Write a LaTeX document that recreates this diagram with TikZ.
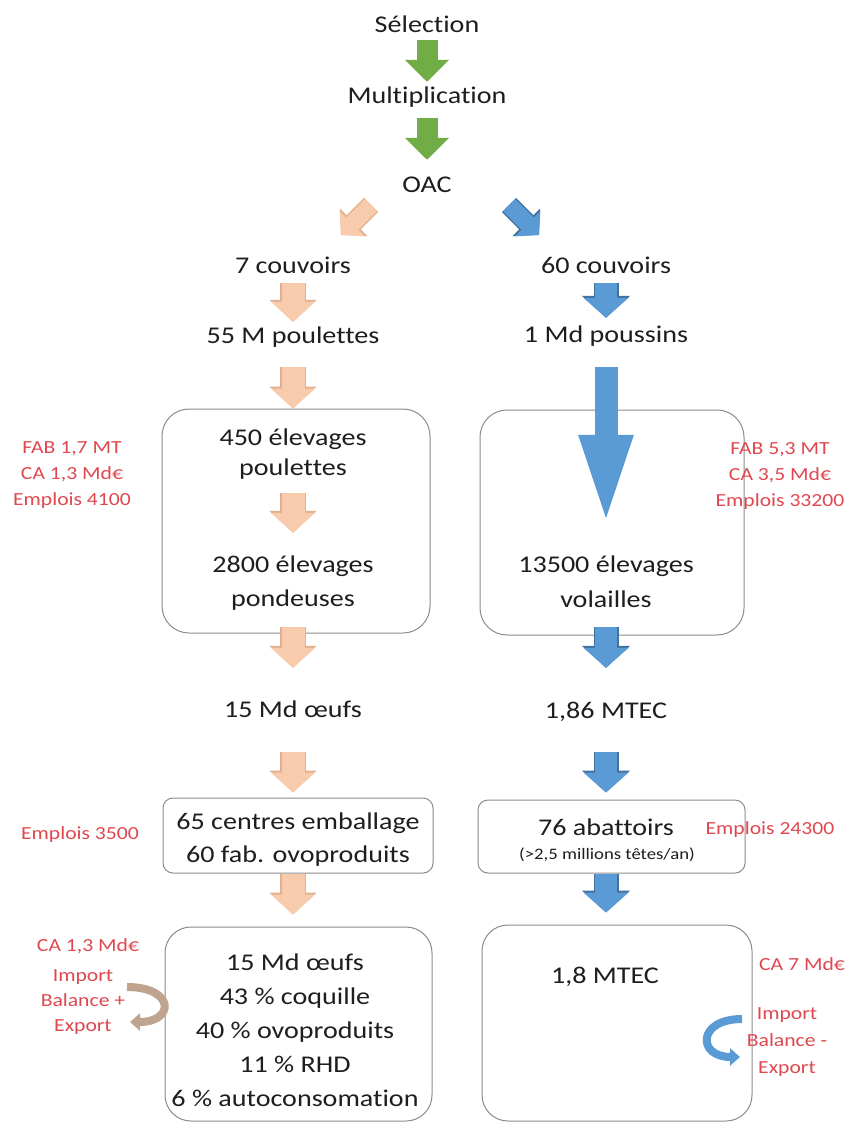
\documentclass[tikz,border=0pt]{standalone}
\usepackage{fontspec}
\setmainfont{Carlito}[FakeStretch=1.17,Ligatures=NoCommon]
\usetikzlibrary{arrows.meta}
\definecolor{leafgreen}{RGB}{112,173,71}
\definecolor{peach}{RGB}{248,203,173}
\definecolor{peachline}{RGB}{226,176,142}
\definecolor{chickblue}{RGB}{91,155,213}
\definecolor{blueline}{RGB}{65,113,156}
\definecolor{notered}{RGB}{224,72,80}
\definecolor{boxgray}{RGB}{140,140,140}
\definecolor{ink}{RGB}{30,30,30}
\definecolor{swaptan}{RGB}{192,163,142}

\tikzset{
  txt/.style={anchor=base,inner sep=0pt,text height=16pt,text depth=5pt,text=ink,font=\fontsize{24}{28}\selectfont},
  smalltxt/.style={anchor=base,inner sep=0pt,text=ink,font=\fontsize{16}{19}\selectfont},
  note/.style={align=center,inner sep=0pt,text=notered,font=\fontsize{18.5}{26}\selectfont},
  panel/.style={draw=boxgray,line width=1pt,rounded corners=#1,inner sep=0pt},
  panel/.default=26pt,
  greenflow/.style={draw=leafgreen,line width=21pt,-{Triangle[length=22pt,width=43pt]}},
  peachflow/.style={draw=peachline,line width=26pt,-{Triangle[length=22pt,width=46pt]},
    postaction={draw=peach,line width=23pt,-{Triangle[length=20pt,width=43pt]}}},
  blueflow/.style={draw=blueline,line width=25pt,-{Triangle[length=22pt,width=47pt]},
    postaction={draw=chickblue,line width=22pt,-{Triangle[length=20pt,width=44pt]}}},
  bigflow/.style={draw=chickblue,line width=23pt,-{Triangle[length=95pt,width=47pt]}},
  peachdiag/.style={draw=peachline,line width=20pt,-{Triangle[length=18pt,width=38pt]},
    postaction={draw=peach,line width=17pt,-{Triangle[length=16pt,width=35pt]}}},
  bluediag/.style={draw=blueline,line width=20pt,-{Triangle[length=18pt,width=38pt]},
    postaction={draw=chickblue,line width=17pt,-{Triangle[length=16pt,width=35pt]}}},
}

\begin{document}
\begin{tikzpicture}[x=1pt,y=-1pt]
  \useasboundingbox[fill=white] (0,0) rectangle (847,1124);

  % common trunk
  \node[txt] (sel) at (427,33) {Sélection};
  \node[txt] (mult) at (427,103) {Multiplication};
  \node[txt] (oac) at (427,192) {OAC};
  \draw[greenflow,shorten <=2pt,shorten >=5pt] (sel) -- (mult);
  \draw[greenflow,shorten <=10pt,shorten >=16pt] (mult) -- (oac);

  \coordinate (pk0) at (371,205);
  \coordinate (pk1) at (341,235);
  \coordinate (bk0) at (509,205);
  \coordinate (bk1) at (539,235);
  \draw[peachdiag] (pk0) -- (pk1);
  \draw[bluediag] (bk0) -- (bk1);

  % laying hens
  \node[txt] (cov7) at (293,273) {7 couvoirs};
  \node[txt] (pou55) at (293,343) {55 M poulettes};
  \node[panel=27pt,minimum width=268pt,minimum height=224pt] (lbox) at (296,521) {};
  \node[txt] (el450) at (293,445) {450 élevages};
  \node[txt] (poul) at (293,475) {poulettes};
  \node[txt] (el2800) at (293,572) {2800 élevages};
  \node[txt] (pond) at (293,606) {pondeuses};
  \node[txt] (oeufs) at (293,717) {15 Md œufs};
  \node[panel=10pt,minimum width=270pt,minimum height=75pt] (ebox) at (298,835.5) {};
  \node[txt] (centres) at (298,829) {65 centres emballage};
  \node[txt] (ovo) at (298,862) {60 fab. ovoproduits};
  \node[panel,minimum width=267pt,minimum height=194pt] (lbot) at (298.5,1024) {};
  \node[txt] (tot15) at (295,970) {15 Md œufs};
  \node[txt] (coq) at (295,1004) {43 \% coquille};
  \node[txt] (ovop) at (295,1038) {40 \% ovoproduits};
  \node[txt] (rhd) at (295,1072) {11 \% RHD};
  \node[txt] (auto) at (295,1106) {6 \% autoconsomation};

  \draw[peachflow,shorten <=5pt,shorten >=5pt] (cov7) -- (pou55);
  \draw[peachflow,shorten <=19pt] (pou55) -- (pou55 |- lbox.north);
  \draw[peachflow,shorten <=13pt,shorten >=23pt] (poul) -- (el2800);
  \draw[peachflow,shorten <=16pt,shorten >=33pt] (pond) -- (oeufs);
  \draw[peachflow,shorten <=30pt,shorten >=5pt] (oeufs) -- (oeufs |- ebox.north);
  \draw[peachflow,shorten >=12pt] (oeufs |- ebox.south) -- (oeufs |- lbot.north);

  % broilers
  \node[txt] (cov60) at (606,273) {60 couvoirs};
  \node[txt] (pous1) at (606,342) {1 Md poussins};
  \node[panel=27pt,minimum width=264pt,minimum height=225pt] (rbox) at (612,522.5) {};
  \node[txt] (el13500) at (606,572) {13500 élevages};
  \node[txt] (vol) at (606,607) {volailles};
  \node[txt] (mtec186) at (606,718) {1,86 MTEC};
  \node[panel=10pt,minimum width=267pt,minimum height=73pt] (abox) at (611.5,836.5) {};
  \node[txt] (abat) at (606,835) {76 abattoirs};
  \node[smalltxt] (tetes) at (607,859) {(>2,5 millions têtes/an)};
  \node[panel,minimum width=270pt,minimum height=196pt] (rbot) at (617,1023) {};
  \node[txt] (mtec18) at (605,983) {1,8 MTEC};

  \draw[blueflow,shorten <=5pt,shorten >=8pt] (cov60) -- (pous1);
  \draw[bigflow,shorten <=20pt,shorten >=26pt] (pous1) -- (el13500);
  \draw[blueflow,shorten <=15pt,shorten >=34pt] (vol) -- (mtec186);
  \draw[blueflow,shorten <=29pt,shorten >=7pt] (mtec186) -- (mtec186 |- abox.north);
  \draw[blueflow,shorten >=12pt] (mtec186 |- abox.south) -- (mtec186 |- rbot.north);

  % figures
  \node[note] (fabL) at (72,475) {FAB 1,7 MT\\CA 1,3 Md€\\Emplois 4100};
  \node[note] (fabR) at (780,476) {FAB 5,3 MT\\CA 3,5 Md€\\Emplois 33200};
  \node[note] (empL) at (80,835) {Emplois 3500};
  \node[note] (empR) at (770,830) {Emplois 24300};
  \node[note] (caL) at (88,946) {CA 1,3 Md€};
  \node[note,font=\fontsize{18.5}{25}\selectfont] (impL) at (83,1002) {Import\\Balance +\\Export};
  \node[note] (caR) at (802,964) {CA 7 Md€};
  \node[note,font=\fontsize{18.5}{27}\selectfont] (impR) at (787,1042) {Import\\Balance -\\Export};

  \coordinate (swL0) at (127,987);
  \coordinate (swL1) at (130,1022);
  \draw[swaptan,line width=8pt,-{Triangle[length=10pt,width=17pt]}] (swL0) .. controls (175,987) and (175,1022) .. (swL1);
  \coordinate (swR0) at (742,1019);
  \coordinate (swR1) at (740,1057);
  \draw[chickblue,line width=8pt,-{Triangle[length=10pt,width=17pt]}] (swR0) .. controls (697,1019) and (697,1057) .. (swR1);
\end{tikzpicture}
\end{document}
